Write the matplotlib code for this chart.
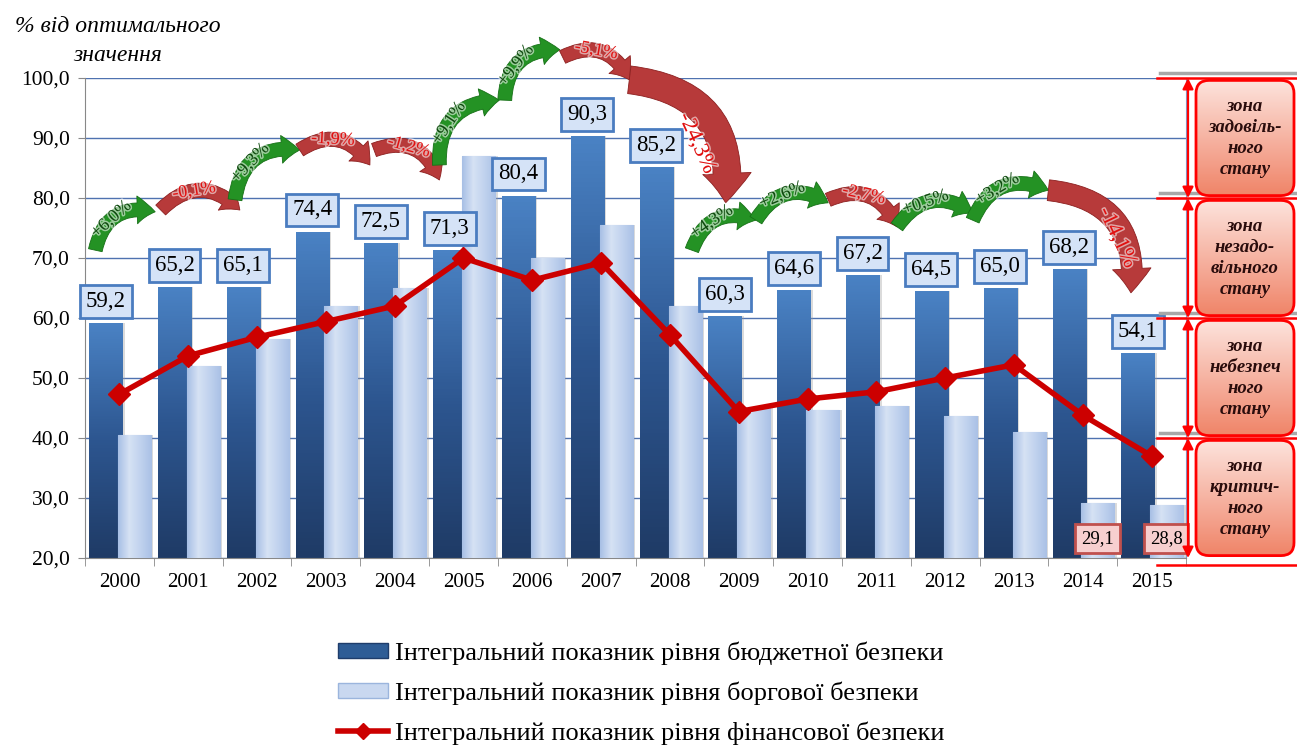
import numpy as np
import matplotlib
matplotlib.use('Agg')
import matplotlib.pyplot as plt
import matplotlib.patheffects as pe
from matplotlib.patches import FancyArrowPatch, FancyBboxPatch, Patch
from matplotlib.lines import Line2D
from matplotlib.colors import LinearSegmentedColormap

plt.rcParams['font.family'] = ['Liberation Serif', 'DejaVu Serif']

# data
years = [str(y) for y in range(2000, 2016)]
budget = [59.2, 65.2, 65.1, 74.4, 72.5, 71.3, 80.4, 90.3, 85.2, 60.3, 64.6, 67.2, 64.5, 65.0, 68.2, 54.1]
debt = [40.5, 52.0, 56.5, 62.0, 65.0, 87.0, 70.0, 75.5, 62.0, 45.2, 44.7, 45.3, 43.7, 41.0, 29.1, 28.8]
financial = [47.3, 53.7, 56.8, 59.4, 62.0, 70.0, 66.3, 69.2, 57.2, 44.4, 46.5, 47.7, 50.0, 52.2, 43.8, 37.0]
changes = ['+6,0%', '-0,1%', '+9,3%', '-1,9%', '-1,2%', '+9,1%', '+9,9%', '-5,1%',
           '-24,3%', '+4,3%', '+2,6%', '-2,7%', '+0,5%', '+3,2%', '-14,1%']
zone_names = ['зона\nзадовіль-\nного\nстану', 'зона\nнезадо-\nвільного\nстану',
              'зона\nнебезпеч\nного\nстану', 'зона\nкритич-\nного\nстану']
zone_bounds = [100, 80, 60, 40, 20]
legend_labels = ['Інтегральний показник рівня бюджетної безпеки',
                 'Інтегральний показник рівня боргової безпеки',
                 'Інтегральний показник рівня фінансової безпеки']

# where the curved change arrows sit (x from, y from, x to, y to, width)
arrow_layout = [(-0.35, 71.3, 0.52, 77.7, 1.0), (0.6, 78.0, 1.75, 78.0, 1.0),
                (1.68, 79.7, 2.62, 88.0, 1.0), (2.62, 88.0, 3.64, 85.5, 1.0),
                (3.7, 88.0, 4.65, 83.0, 1.0), (4.65, 85.5, 5.52, 96.3, 1.0),
                (5.6, 96.3, 6.4, 104.7, 1.0), (6.44, 103.5, 7.41, 99.7, 1.0),
                (7.41, 99.7, 8.81, 79.2, 2.0), (8.32, 71.3, 9.25, 76.3, 1.0),
                (9.25, 76.3, 10.3, 79.2, 1.0), (10.3, 79.7, 11.3, 75.2, 1.0),
                (11.3, 75.2, 12.4, 77.5, 1.0), (12.4, 76.3, 13.5, 81.3, 1.0),
                (13.5, 81.3, 14.7, 64.2, 1.5)]

W, H = 1297, 747
fig = plt.figure(figsize=(W / 100, H / 100), dpi=100)
ax = fig.add_axes([85 / W, 1 - 558 / H, 1101 / W, 480 / H])

x = np.arange(len(years))
ymin, ymax = 20, 100

# bar shadows
ax.bar(x - 0.2 + 0.035, budget, width=0.48, color='#9a9a9a', alpha=0.35, zorder=1)
ax.bar(x + 0.22 + 0.035, debt, width=0.48, color='#9a9a9a', alpha=0.35, zorder=1)

dark_bars = ax.bar(x - 0.2, budget, width=0.48, color='#3a6aa8', zorder=2)
light_bars = ax.bar(x + 0.22, debt, width=0.48, color='#c3d4ee', edgecolor='#a9c0e4', lw=0.8, zorder=3)

dark_cmap = LinearSegmentedColormap.from_list('d', ['#1f3b66', '#2d5690', '#4a82c4'])
light_cmap = LinearSegmentedColormap.from_list('l', ['#a7bfe5', '#d6e2f4', '#c0d2ee', '#aac1e6'])
vgrad = np.linspace(0, 1, 100).reshape(-1, 1)
hgrad = np.linspace(0, 1, 100).reshape(1, -1)
for b in dark_bars:
    x0, w, h = b.get_x(), b.get_width(), b.get_height()
    im = ax.imshow(vgrad, cmap=dark_cmap, extent=[x0, x0 + w, ymin, h], origin='lower',
                   aspect='auto', zorder=2)
    im.set_clip_path(b)
for b in light_bars:
    x0, w, h = b.get_x(), b.get_width(), b.get_height()
    im = ax.imshow(hgrad, cmap=light_cmap, extent=[x0, x0 + w, ymin, h], origin='lower',
                   aspect='auto', zorder=3)
    im.set_clip_path(b)
ax.set_xlim(-0.5, len(years) - 0.5)
ax.set_ylim(ymin, ymax)

ax.plot(x, financial, color='#cc0000', lw=4, marker='D', ms=11, zorder=5)

# grid and axes
yt = np.arange(ymin, ymax + 1, 10)
ax.set_yticks(yt)
ax.set_yticklabels([f'{v:.1f}'.replace('.', ',') for v in yt], fontsize=15.5)
ax.yaxis.grid(True, color='#4f72b0', lw=1)
ax.set_axisbelow(True)
ax.set_xticks(x)
ax.set_xticklabels(years, fontsize=15)
ax.set_xticks(np.arange(-0.5, len(years), 1), minor=True)
ax.tick_params(axis='x', which='major', length=0, pad=11)
ax.tick_params(axis='x', which='minor', length=6, color='#888888')
ax.tick_params(axis='y', length=5, color='#888888', pad=6)
for s in ['left', 'bottom']:
    ax.spines[s].set_color('#888888')
ax.spines['top'].set_visible(False)
ax.spines['right'].set_color('#7f9fcf')
ax.spines['right'].set_linewidth(0.8)

# value boxes
for i, v in enumerate(budget):
    ax.annotate(f'{v:.1f}'.replace('.', ','), xy=(i - 0.2, v), xytext=(0, 8),
                textcoords='offset points', ha='center', va='bottom', fontsize=16.5,
                bbox=dict(boxstyle='square,pad=0.26', fc='#d5e3f7', ec='#4a7cc0', lw=2), zorder=6)
for i in [14, 15]:
    ax.annotate(f'{debt[i]:.1f}'.replace('.', ','), xy=(i + 0.21, ymin), xytext=(0, 14),
                textcoords='offset points', ha='center', va='center', fontsize=13.5,
                bbox=dict(boxstyle='square,pad=0.32', fc='#f7cfcf', ec='#c0504d', lw=2), zorder=6)

# curved change arrows
halo = [pe.withStroke(linewidth=2.2, foreground='white', alpha=0.55)]
for (x0, y0, x1, y1, tw), txt in zip(arrow_layout, changes):
    up = txt.startswith('+')
    fc = '#249224' if up else '#b73a3a'
    ec = '#167016' if up else '#8c1f1f'
    tc = '#0d4a0d' if up else '#e01010'
    style = f'simple,head_length={1.3 * tw**0.7},head_width={2.0 * tw**0.8},tail_width={1.0 * tw}'
    arr = FancyArrowPatch((x0, y0), (x1, y1), connectionstyle='arc3,rad=-0.5',
                          arrowstyle=style, mutation_scale=10, fc=fc, ec=ec, lw=0.6,
                          shrinkA=0, shrinkB=0, clip_on=False, zorder=7)
    ax.add_patch(arr)
    p0 = ax.transData.transform((x0, y0))
    p2 = ax.transData.transform((x1, y1))
    d = p2 - p0
    c = (p0 + p2) / 2 + np.array([-0.5 * d[1], 0.5 * d[0]])
    t = 0.42 if tw < 1.4 else 0.62
    pt = (1 - t) ** 2 * p0 + 2 * (1 - t) * t * c + t ** 2 * p2
    tan = 2 * (1 - t) * (c - p0) + 2 * t * (p2 - c)
    ang = np.degrees(np.arctan2(tan[1], tan[0]))
    if ang > 90:
        ang -= 180
    if ang < -90:
        ang += 180
    if tw > 1.4:
        nrm = np.array([tan[1], -tan[0]]) / np.hypot(*tan)
        pt = pt + nrm * (24 if tw > 1.8 else 8)
    px, py = ax.transData.inverted().transform(pt)
    ax.text(px, py, txt, rotation=ang, rotation_mode='anchor', ha='center', va='center',
            fontsize=13 if tw < 1.4 else 16, color=tc, clip_on=False, zorder=8,
            path_effects=halo)

# axis title
fig.text(118 / W, 1 - 41 / H, '% від оптимального\nзначення', ha='center', va='center',
         fontsize=17, style='italic', linespacing=1.45)

# zone panel on the right
zax = fig.add_axes([1150 / W, 1 - 558 / H, 147 / W, 480 / H])
zax.set_xlim(0, 147)
zax.set_ylim(ymin, ymax)
zax.axis('off')
zax.patch.set_alpha(0)
zone_cmap = LinearSegmentedColormap.from_list('z', ['#f08468', '#f6b3a2', '#fde3dc'])
for b in zone_bounds[:-1]:
    zax.plot([10, 147], [b + 0.9, b + 0.9], color='#a8a8a8', lw=2.5, clip_on=False, zorder=1)
for b in zone_bounds[:-1] + [zone_bounds[-1] - 1.2]:
    zax.plot([7, 147], [b, b], color='#ff0000', lw=1.8, clip_on=False, zorder=3)
for hi, lo, name in zip(zone_bounds[:-1], zone_bounds[1:], zone_names):
    box = FancyBboxPatch((46, lo + 0.4), 98, hi - lo - 0.8,
                         boxstyle='round,pad=0,rounding_size=13', mutation_aspect=1 / 6,
                         fc='none', ec='#ff0000', lw=2, clip_on=False, zorder=4)
    zax.add_patch(box)
    im = zax.imshow(vgrad, cmap=zone_cmap, extent=[46, 144, lo + 0.4, hi - 0.4],
                    origin='lower', aspect='auto', zorder=2)
    im.set_clip_path(box)
    zax.text(95, (hi + lo) / 2, name, ha='center', va='center', fontsize=13.5,
             fontweight='bold', style='italic', color='#2a0c0c', linespacing=1.3, zorder=5)
    zax.annotate('', xy=(38, hi), xytext=(38, lo),
                 arrowprops=dict(arrowstyle='<|-|>', color='#ff0000', lw=1.6,
                                 mutation_scale=16, shrinkA=0, shrinkB=0), zorder=5)
zax.set_xlim(0, 147)
zax.set_ylim(ymin, ymax)

# legend
handles = [Patch(fc='#2f5d96', ec='#1f3d6b'),
           Patch(fc='#c9d8f0', ec='#9bb5dd'),
           Line2D([], [], color='#cc0000', lw=4, marker='D', ms=8)]
fig.legend(handles, legend_labels, loc='center left', bbox_to_anchor=(327 / W, 1 - 693 / H),
           frameon=False, fontsize=19, handlelength=1.9, handleheight=0.5, handletextpad=0.27,
           labelspacing=0.62, borderaxespad=0)

fig.savefig('out.png', dpi=100)
